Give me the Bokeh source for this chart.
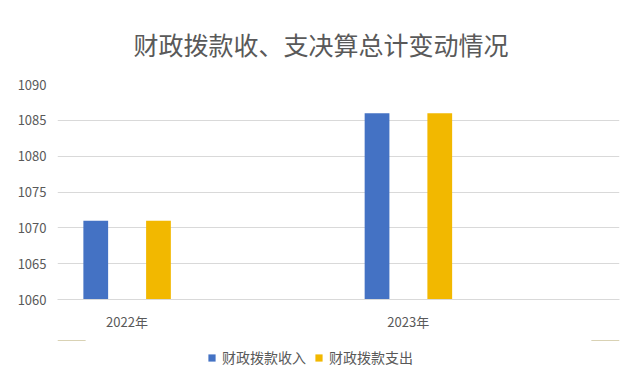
import numpy as np
from bokeh.plotting import figure
from bokeh.layouts import column
from bokeh.models import ColumnDataSource, Range1d, FixedTicker, Legend, LegendItem
from bokeh.transform import dodge
from bokeh.embed import file_html
from bokeh.resources import INLINE

title_text = "财政拨款收、支决算总计变动情况"
categories = ["2022年", "2023年"]
series_names = ["财政拨款收入", "财政拨款支出"]
income = [1071, 1086]
expense = [1071, 1086]
y_ticks = [1060, 1065, 1070, 1075, 1080, 1085, 1090]

colors = ["#4472C4", "#F2B800"]
FONT = "Noto Sans CJK SC"
GREY = "#595959"

src = ColumnDataSource(dict(x=list(range(len(categories))), income=income, expense=expense))

p = figure(width=624, height=340, output_backend="svg", toolbar_location=None,
           x_range=Range1d(-0.247, 1.751), y_range=Range1d(y_ticks[0], y_ticks[-1]),
           min_border_left=57, min_border_right=5, min_border_top=69, min_border_bottom=41)

p.title.text = title_text
p.title.align = "left"
p.title.text_font = FONT
p.title.text_font_size = "25px"
p.title.text_font_style = "normal"
p.title.text_color = GREY
p.title.offset = 76
p.title.standoff = 46

p.outline_line_color = None
p.background_fill_color = "white"
p.border_fill_color = "white"

r1 = p.vbar(x=dodge("x", -0.111, range=p.x_range), top="income", bottom=y_ticks[0],
            width=0.088, source=src, fill_color=colors[0], line_color=None)
r2 = p.vbar(x=dodge("x", 0.112, range=p.x_range), top="expense", bottom=y_ticks[0],
            width=0.088, source=src, fill_color=colors[1], line_color=None)

p.yaxis.ticker = FixedTicker(ticks=y_ticks)
p.yaxis.axis_line_color = None
p.yaxis.major_tick_line_color = None
p.yaxis.minor_tick_line_color = None
p.yaxis.major_label_text_font = FONT
p.yaxis.major_label_text_font_size = "13px"
p.yaxis.major_label_text_color = GREY
p.yaxis.major_label_standoff = 5

p.xaxis.ticker = FixedTicker(ticks=list(range(len(categories))))
p.xaxis.major_label_overrides = {i: c for i, c in enumerate(categories)}
p.xaxis.axis_line_color = "#d9d9d9"
p.xaxis.major_tick_line_color = None
p.xaxis.minor_tick_line_color = None
p.xaxis.major_label_text_font = FONT
p.xaxis.major_label_text_font_size = "13px"
p.xaxis.major_label_text_color = GREY
p.xaxis.major_label_standoff = 6

p.xgrid.grid_line_color = None
p.ygrid.grid_line_color = "#d9d9d9"
p.ygrid.grid_line_width = 1

# legend strip below the chart (its renderers lie outside its visible range)
pl = figure(width=624, height=30, output_backend="svg", toolbar_location=None,
            x_axis_type=None, y_axis_type=None, x_range=Range1d(0, 1), y_range=Range1d(0, 1),
            min_border=0, outline_line_color=None)
pl.background_fill_color = "white"
pl.border_fill_color = "white"
l1 = pl.vbar(x="x", top="income", bottom=y_ticks[0], width=0.1, source=src,
             fill_color=colors[0], line_color=None)
l2 = pl.vbar(x="x", top="expense", bottom=y_ticks[0], width=0.1, source=src,
             fill_color=colors[1], line_color=None)

legend = Legend(items=[LegendItem(label=series_names[0], renderers=[l1]),
                       LegendItem(label=series_names[1], renderers=[l2])],
                orientation="horizontal", location=(150, 3),
                glyph_width=9, glyph_height=9, label_standoff=6, spacing=8,
                label_text_font=FONT, label_text_font_size="14px", label_text_color=GREY,
                border_line_color=None, background_fill_alpha=0, padding=0, margin=0)
pl.add_layout(legend)

layout = column(p, pl, spacing=0)
open("out.html", "w").write(file_html(layout, INLINE))
